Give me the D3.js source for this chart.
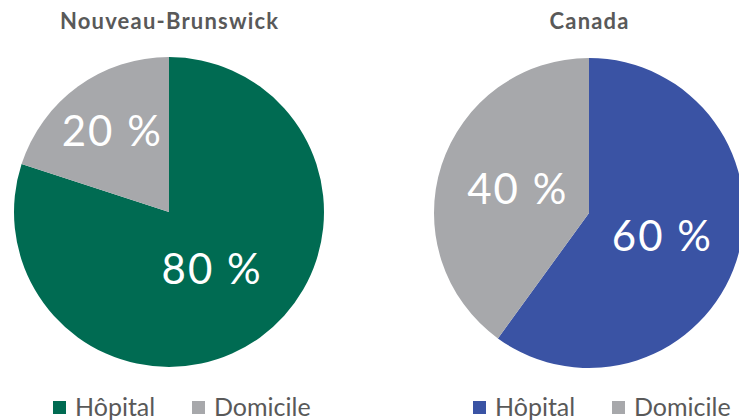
<!DOCTYPE html>
<html>
<head>
<meta charset="utf-8">
<script src="https://cdn.jsdelivr.net/npm/d3@7"></script>
<style>
  body { margin: 0; background: #fff; }
  svg { display: block; font-family: Lato, "Open Sans", sans-serif; }
</style>
</head>
<body>
<div id="chart"></div>
<script>
// Data
const categories = ["Hôpital", "Domicile"];
const regions = ["Nouveau-Brunswick", "Canada"];
const nbValues = [80, 20];
const canadaValues = [60, 40];

const width = 739;
const height = 420;

// one panel per region
const panels = [
  { title: regions[0], values: nbValues, cx: 169, cy: 212, hospitalColor: "#006b52", labelR: [70, 100] },
  { title: regions[1], values: canadaValues, cx: 589, cy: 213, hospitalColor: "#3a53a4", labelR: [75, 77] },
];
const domicileColor = "#a7a8ab";
const radius = 155;

const svg = d3.select("#chart")
  .append("svg")
  .attr("width", width)
  .attr("height", height);

const pie = d3.pie().sort(null).value(d => d.value);
const arc = d3.arc().innerRadius(0).outerRadius(radius);

panels.forEach(p => {
  const color = d3.scaleOrdinal()
    .domain(categories)
    .range([p.hospitalColor, domicileColor]);

  const data = categories.map((c, i) => ({ category: c, value: p.values[i] }));
  const arcs = pie(data);

  // title
  svg.append("text")
    .attr("x", p.cx + 0.6)
    .attr("y", 29)
    .attr("text-anchor", "middle")
    .style("font-size", "22px")
    .style("font-weight", "700")
    .style("letter-spacing", "1.2px")
    .style("fill", "#595959")
    .text(p.title);

  const g = svg.append("g")
    .attr("transform", `translate(${p.cx},${p.cy})`);

  g.selectAll("path")
    .data(arcs)
    .join("path")
    .attr("d", arc)
    .attr("fill", d => color(d.data.category));

  // percentage labels
  g.selectAll(".slice-label")
    .data(arcs)
    .join("text")
    .attr("class", "slice-label")
    .attr("transform", (d, i) => {
      const r = p.labelR[i];
      const [x, y] = d3.arc().innerRadius(r).outerRadius(r).centroid(d);
      return `translate(${x},${y})`;
    })
    .attr("dx", 2)
    .attr("dy", 15)
    .attr("text-anchor", "middle")
    .style("font-size", "42px")
    .style("letter-spacing", "2px")
    .style("fill", "#fff")
    .text(d => `${d.data.value} %`);

  // legend
  const legendX = [p.cx - 116, p.cx + 23];
  const legend = svg.append("g");
  categories.forEach((c, i) => {
    legend.append("rect")
      .attr("x", legendX[i])
      .attr("y", 401)
      .attr("width", 13)
      .attr("height", 13)
      .attr("fill", color(c));
    legend.append("text")
      .attr("x", legendX[i] + 22)
      .attr("y", 416)
      .style("font-size", "25px")
      .style("fill", "#595959")
      .text(c);
  });
});
</script>
</body>
</html>
